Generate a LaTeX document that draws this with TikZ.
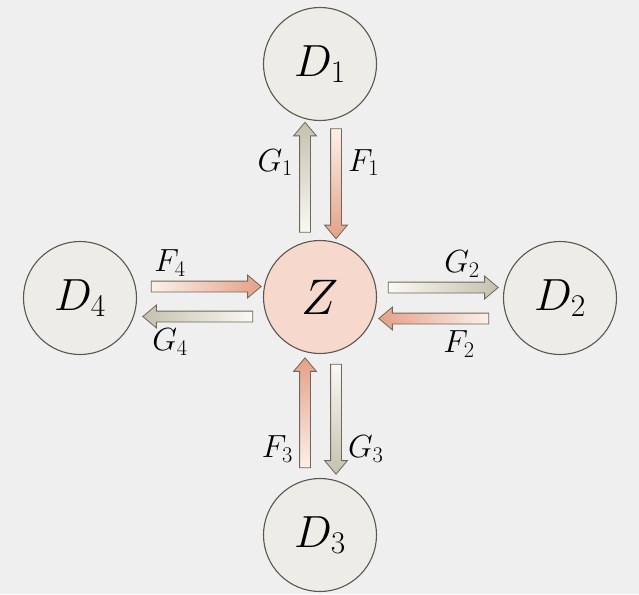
\documentclass[tikz,border=0pt]{standalone}
\usepackage{fix-cm}
\usetikzlibrary{shapes.arrows,positioning,calc}

\definecolor{bgcol}{RGB}{239,239,239}
\definecolor{edgecol}{RGB}{92,87,80}
\definecolor{dfill}{RGB}{237,236,230}
\definecolor{zfill}{RGB}{246,217,204}
\definecolor{gtail}{RGB}{250,249,243}
\definecolor{ghead}{RGB}{196,193,174}
\definecolor{ftail}{RGB}{251,240,234}
\definecolor{fhead}{RGB}{229,160,134}
\definecolor{arrline}{RGB}{110,104,90}

\begin{document}
\begin{tikzpicture}[
    x=1pt, y=1pt,
    circ/.style={draw=edgecol, circle, line width=1.1pt, minimum size=113pt, inner sep=0pt,
                 font=\fontsize{45}{50}\selectfont},
    dnode/.style={circ, fill=dfill},
    znode/.style={circ, fill=zfill, font=\fontsize{50}{56}\selectfont},
    blockarr/.style={single arrow, draw=arrline, line width=0.8pt, inner xsep=0pt, inner ysep=5pt,
                     text height=0pt, text depth=0pt,
                     minimum height=110pt, single arrow head extend=6pt,
                     single arrow tip angle=80},
    vert/.style={inner xsep=5pt, inner ysep=0pt},
    garr/.style={blockarr},
    farr/.style={blockarr},
    lbl/.style={inner sep=0pt, font=\fontsize{32}{36}\selectfont}
]
    \fill[bgcol] (0,0) rectangle (639,-594);
    \useasboundingbox (0,0) rectangle (639,-594);

    % the five compartments
    \node [znode] (Z) at (320,-297) {$Z$};
    \node [dnode] (D1) at (320,-64) {$D_1$};
    \node [dnode] (D2) at (560,-298) {$D_2$};
    \node [dnode] (D3) at (320,-535) {$D_3$};
    \node [dnode] (D4) at (80,-298) {$D_4$};

    % flows up and down
    \node [garr, vert, shape border rotate=90, top color=ghead, bottom color=gtail] (g1) at ($(Z)!0.5!(D1)+(-15,0)$) {};
    \node [farr, vert, shape border rotate=270, bottom color=fhead, top color=ftail] (f1) at ($(Z)!0.5!(D1)+(16,0)$) {};
    \node [farr, vert, shape border rotate=90, top color=fhead, bottom color=ftail] (f3) at ($(Z)!0.5!(D3)+(-15,0)$) {};
    \node [garr, vert, shape border rotate=270, bottom color=ghead, top color=gtail] (g3) at ($(Z)!0.5!(D3)+(16,0)$) {};

    % flows left and right
    \node [farr, right color=fhead, left color=ftail] (f4) at ($(Z)!0.5!(D4)+(3,11)$) {};
    \node [garr, shape border rotate=180, left color=ghead, right color=gtail] (g4) at ($(Z)!0.5!(D4)+(1,-19)$) {};
    \node [garr, right color=ghead, left color=gtail] (g2) at ($(Z)!0.5!(D2)+(0,10)$) {};
    \node [farr, shape border rotate=180, left color=fhead, right color=ftail] (f2) at ($(Z)!0.5!(D2)+(-3,-21)$) {};

    % labels
    \node [lbl, left=6pt of g1, yshift=18pt] {$G_1$};
    \node [lbl, right=6pt of f1, yshift=18pt] {$F_1$};
    \node [lbl, left=6pt of f3, yshift=-33pt] {$F_3$};
    \node [lbl, right=6pt of g3, yshift=-33pt] {$G_3$};
    \node [lbl, above=4pt of f4, xshift=-33pt] {$F_4$};
    \node [lbl, below=6pt of g4, xshift=-31pt] {$G_4$};
    \node [lbl, above=4pt of g2, xshift=22pt] {$G_2$};
    \node [lbl, below=6pt of f2, xshift=22pt] {$F_2$};
\end{tikzpicture}
\end{document}
